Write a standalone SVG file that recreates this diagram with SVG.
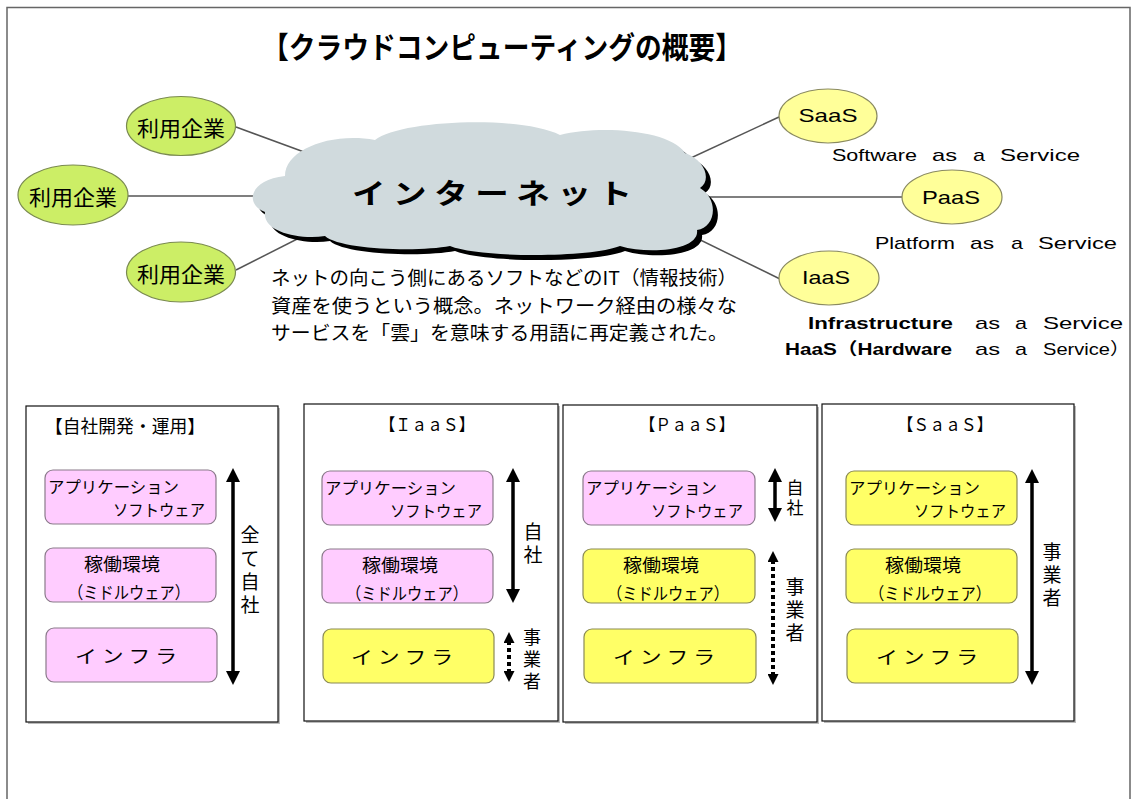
<svg xmlns="http://www.w3.org/2000/svg" width="1131" height="799" viewBox="0 0 1131 799">
<style>
text{font-family:"Noto Sans CJK JP","Liberation Sans",sans-serif;fill:#000;dominant-baseline:central}
.lat{font-family:"Liberation Sans","Noto Sans CJK JP",sans-serif}
.ent{fill:#ccee66;stroke:#7a8a50;stroke-width:1.2}
.svc{fill:#ffff99;stroke:#8a8a60;stroke-width:1.2}
.conn{stroke:#555;stroke-width:1.5;fill:none}
.panel{fill:#fff;stroke:#111;stroke-width:1.2}
.pshadow{fill:#bbb}
.pink{fill:#ffccff;stroke:#8a7a8a;stroke-width:1.2}
.yel{fill:#ffff66;stroke:#8a8a55;stroke-width:1.2}
.bt{font-size:17px}
.at{font-size:16px}
.vt{font-size:19px;writing-mode:vertical-rl;letter-spacing:4px}
.solid{stroke:#000;stroke-width:3.5;fill:none;marker-start:url(#ah);marker-end:url(#ah)}
.dash{stroke:#000;stroke-width:4;stroke-dasharray:4 3;fill:none;marker-start:url(#ahs);marker-end:url(#ahs)}
</style>
<defs>
<marker id="ah" markerUnits="userSpaceOnUse" markerWidth="14" markerHeight="14" viewBox="0 0 14 14" refX="3" refY="7" orient="auto-start-reverse"><path d="M0,0 L14,7 L0,14 Z" fill="#000"/></marker>
<marker id="ahs" markerUnits="userSpaceOnUse" markerWidth="11" markerHeight="11" viewBox="0 0 11 11" refX="2" refY="5.5" orient="auto-start-reverse"><path d="M0,0 L11,5.5 L0,11 Z" fill="#000"/></marker>
<path id="cloudShape" d="M265,212 C245,205 248,180 285,176 C285,150 330,132 375,140 C400,120 520,115 560,135 C600,125 670,130 685,153 C705,160 712,180 700,188 C720,200 715,228 697,230 C700,250 650,255 620,246 C590,258 480,258 450,246 C420,252 340,250 325,236 C300,240 262,232 265,212 Z"/>
</defs>
<rect width="1131" height="799" fill="#fff"/>
<path d="M7,799 V7.5 H1130 V799" fill="none" stroke="#666" stroke-width="1.5"/>

<text x="502" y="45" font-size="30" font-weight="bold" text-anchor="middle" textLength="480" lengthAdjust="spacingAndGlyphs">【クラウドコンピューティングの概要】</text>

<g id="connectors">
<line class="conn" x1="236" y1="127" x2="315" y2="156"/>
<line class="conn" x1="128" y1="196" x2="270" y2="196"/>
<line class="conn" x1="236" y1="270" x2="315" y2="230"/>
<line class="conn" x1="680" y1="163" x2="779" y2="117"/>
<line class="conn" x1="705" y1="197" x2="903" y2="197"/>
<line class="conn" x1="680" y1="230" x2="780" y2="279"/>
</g>

<g id="internet">
<use href="#cloudShape" transform="translate(5,5)" fill="#000"/>
<use href="#cloudShape" fill="#d0dadd"/>
<text x="492" y="192" font-size="28" font-weight="bold" text-anchor="middle" textLength="280" lengthAdjust="spacingAndGlyphs">イ ン タ ー ネ ッ ト</text>
</g>

<g id="user1"><ellipse class="ent" cx="181" cy="126" rx="54.5" ry="29.5"/><text x="181" y="127" font-size="21" text-anchor="middle" textLength="88" lengthAdjust="spacingAndGlyphs">利用企業</text></g>
<g id="user2"><ellipse class="ent" cx="73" cy="195" rx="55" ry="30"/><text x="73" y="196" font-size="21" text-anchor="middle" textLength="88" lengthAdjust="spacingAndGlyphs">利用企業</text></g>
<g id="user3"><ellipse class="ent" cx="181" cy="272" rx="54.5" ry="30"/><text x="181" y="273" font-size="21" text-anchor="middle" textLength="88" lengthAdjust="spacingAndGlyphs">利用企業</text></g>

<g id="saas"><ellipse class="svc" cx="828" cy="116" rx="49" ry="27"/><text class="lat" x="828" y="115" font-size="19" text-anchor="middle" textLength="59" lengthAdjust="spacingAndGlyphs">SaaS</text>
<text class="lat" y="155" font-size="17"><tspan x="832" textLength="85" lengthAdjust="spacingAndGlyphs">Software</tspan><tspan x="932" textLength="25" lengthAdjust="spacingAndGlyphs">as</tspan><tspan x="973" textLength="12" lengthAdjust="spacingAndGlyphs">a</tspan><tspan x="1000" textLength="80" lengthAdjust="spacingAndGlyphs">Service</tspan></text></g>
<g id="paas"><ellipse class="svc" cx="952" cy="197" rx="50" ry="27"/><text class="lat" x="951" y="197" font-size="19" text-anchor="middle" textLength="58" lengthAdjust="spacingAndGlyphs">PaaS</text>
<text class="lat" y="243" font-size="17"><tspan x="875" textLength="80" lengthAdjust="spacingAndGlyphs">Platform</tspan><tspan x="970" textLength="24" lengthAdjust="spacingAndGlyphs">as</tspan><tspan x="1011" textLength="12" lengthAdjust="spacingAndGlyphs">a</tspan><tspan x="1038" textLength="79" lengthAdjust="spacingAndGlyphs">Service</tspan></text></g>
<g id="iaas"><ellipse class="svc" cx="829" cy="278" rx="50" ry="27"/><text class="lat" x="826" y="277" font-size="19" text-anchor="middle" textLength="48" lengthAdjust="spacingAndGlyphs">IaaS</text>
<text class="lat" y="323" font-size="17"><tspan x="808" font-weight="bold" textLength="145" lengthAdjust="spacingAndGlyphs">Infrastructure</tspan><tspan x="975" textLength="25" lengthAdjust="spacingAndGlyphs">as</tspan><tspan x="1015" textLength="12" lengthAdjust="spacingAndGlyphs">a</tspan><tspan x="1043" textLength="80" lengthAdjust="spacingAndGlyphs">Service</tspan></text>
<text class="lat" y="349" font-size="17"><tspan x="785" font-weight="bold" textLength="167" lengthAdjust="spacingAndGlyphs">HaaS（Hardware</tspan><tspan x="975" textLength="25" lengthAdjust="spacingAndGlyphs">as</tspan><tspan x="1015" textLength="12" lengthAdjust="spacingAndGlyphs">a</tspan><tspan x="1043" textLength="87" lengthAdjust="spacingAndGlyphs">Service）</tspan></text></g>

<g id="description">
<text x="271" y="276" font-size="19" textLength="466" lengthAdjust="spacingAndGlyphs">ネットの向こう側にあるソフトなどのIT（情報技術）</text>
<text x="271" y="304" font-size="19" textLength="466" lengthAdjust="spacingAndGlyphs">資産を使うという概念。ネットワーク経由の様々な</text>
<text x="271" y="331" font-size="19" textLength="457" lengthAdjust="spacingAndGlyphs">サービスを「雲」を意味する用語に再定義された。</text>
</g>

<g id="panel-own">
<rect class="pshadow" x="28" y="408" width="252" height="316"/>
<rect class="panel" x="26" y="406" width="252" height="316"/>
<text x="45" y="425" font-size="18" textLength="160" lengthAdjust="spacingAndGlyphs">【自社開発・運用】</text>
<rect class="pink" x="45" y="470" width="171" height="54" rx="8"/>
<text class="at" x="48" y="486" textLength="131" lengthAdjust="spacingAndGlyphs">アプリケーション</text>
<text class="at" x="205" y="508.5" text-anchor="end" textLength="92" lengthAdjust="spacingAndGlyphs">ソフトウェア</text>
<rect class="pink" x="45" y="548" width="171" height="54" rx="8"/>
<text x="122" y="563" font-size="18" text-anchor="middle" textLength="76" lengthAdjust="spacingAndGlyphs">稼働環境</text>
<text class="bt" x="129" y="591" text-anchor="middle" textLength="122" lengthAdjust="spacingAndGlyphs">（ミドルウェア）</text>
<rect class="pink" x="46" y="628" width="171" height="54" rx="8"/>
<text x="126" y="655" font-size="18" text-anchor="middle" textLength="102" lengthAdjust="spacingAndGlyphs">イ ン フ ラ</text>
<line class="solid" x1="233" y1="479" x2="233" y2="674"/>
<text class="vt" x="250" y="525.5" style="letter-spacing:4.3px">全て自社</text>
</g>

<g id="panel-iaas">
<rect class="pshadow" x="306" y="406" width="254" height="317"/>
<rect class="panel" x="304" y="404" width="254" height="317"/>
<text x="427" y="423" font-size="17" text-anchor="middle" textLength="95" lengthAdjust="spacingAndGlyphs">【ＩａａＳ】</text>
<rect class="pink" x="322" y="471" width="171" height="54" rx="8"/>
<text class="at" x="325" y="487" textLength="131" lengthAdjust="spacingAndGlyphs">アプリケーション</text>
<text class="at" x="482" y="509.5" text-anchor="end" textLength="92" lengthAdjust="spacingAndGlyphs">ソフトウェア</text>
<rect class="pink" x="322" y="549" width="171" height="54" rx="8"/>
<text x="400" y="564" font-size="18" text-anchor="middle" textLength="76" lengthAdjust="spacingAndGlyphs">稼働環境</text>
<text class="bt" x="407" y="592" text-anchor="middle" textLength="122" lengthAdjust="spacingAndGlyphs">（ミドルウェア）</text>
<rect class="yel" x="323" y="629" width="171" height="54" rx="8"/>
<text x="402" y="656" font-size="18" text-anchor="middle" textLength="102" lengthAdjust="spacingAndGlyphs">イ ン フ ラ</text>
<line class="solid" x1="513" y1="479" x2="513" y2="592"/>
<text class="vt" x="533" y="522.5">自社</text>
<line class="dash" x1="509" y1="641" x2="509" y2="673"/>
<text class="vt" x="532" y="628" style="font-size:18px">事業者</text>
</g>

<g id="panel-paas">
<rect class="pshadow" x="565" y="407" width="254" height="317"/>
<rect class="panel" x="563" y="405" width="254" height="317"/>
<text x="687" y="423" font-size="17" text-anchor="middle" textLength="95" lengthAdjust="spacingAndGlyphs">【ＰａａＳ】</text>
<rect class="pink" x="583" y="471" width="172" height="54" rx="8"/>
<text class="at" x="586" y="487" textLength="131" lengthAdjust="spacingAndGlyphs">アプリケーション</text>
<text class="at" x="743" y="509.5" text-anchor="end" textLength="92" lengthAdjust="spacingAndGlyphs">ソフトウェア</text>
<rect class="yel" x="583" y="549" width="172" height="54" rx="8"/>
<text x="661" y="564" font-size="18" text-anchor="middle" textLength="76" lengthAdjust="spacingAndGlyphs">稼働環境</text>
<text class="bt" x="668" y="592" text-anchor="middle" textLength="122" lengthAdjust="spacingAndGlyphs">（ミドルウェア）</text>
<rect class="yel" x="584" y="629" width="172" height="54" rx="8"/>
<text x="664" y="656" font-size="18" text-anchor="middle" textLength="102" lengthAdjust="spacingAndGlyphs">イ ン フ ラ</text>
<line class="solid" x1="775" y1="479" x2="775" y2="511"/>
<text class="vt" x="795" y="479.5" style="font-size:17px;letter-spacing:3px">自社</text>
<line class="dash" x1="773" y1="560" x2="773" y2="676"/>
<text class="vt" x="795" y="577.5">事業者</text>
</g>

<g id="panel-saas">
<rect class="pshadow" x="824" y="406" width="252" height="317"/>
<rect class="panel" x="822" y="404" width="252" height="317"/>
<text x="945" y="423" font-size="17" text-anchor="middle" textLength="95" lengthAdjust="spacingAndGlyphs">【ＳａａＳ】</text>
<rect class="yel" x="846" y="471" width="171" height="54" rx="8"/>
<text class="at" x="849" y="487" textLength="131" lengthAdjust="spacingAndGlyphs">アプリケーション</text>
<text class="at" x="1006" y="509.5" text-anchor="end" textLength="92" lengthAdjust="spacingAndGlyphs">ソフトウェア</text>
<rect class="yel" x="846" y="549" width="171" height="54" rx="8"/>
<text x="923" y="564" font-size="18" text-anchor="middle" textLength="76" lengthAdjust="spacingAndGlyphs">稼働環境</text>
<text class="bt" x="930" y="592" text-anchor="middle" textLength="122" lengthAdjust="spacingAndGlyphs">（ミドルウェア）</text>
<rect class="yel" x="847" y="629" width="171" height="54" rx="8"/>
<text x="927" y="656" font-size="18" text-anchor="middle" textLength="102" lengthAdjust="spacingAndGlyphs">イ ン フ ラ</text>
<line class="solid" x1="1032" y1="480" x2="1032" y2="674"/>
<text class="vt" x="1052" y="542.5">事業者</text>
</g>
</svg>
